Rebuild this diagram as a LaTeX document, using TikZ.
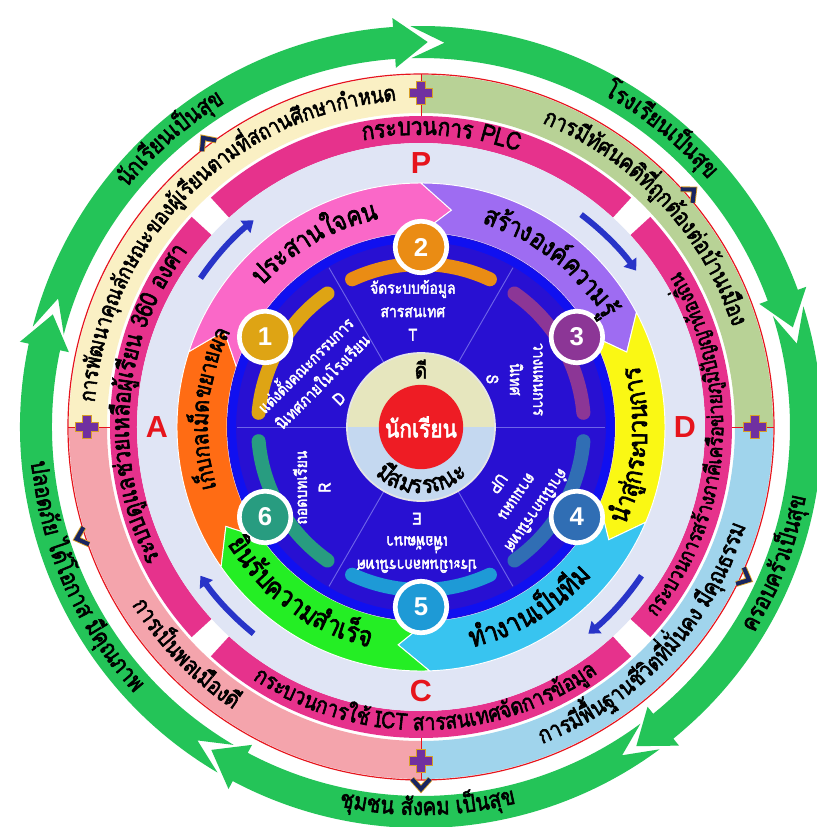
\documentclass[tikz,border=0pt]{standalone}
\usepackage{fontspec}
\usetikzlibrary{arrows.meta}
\newfontfamily\thaifont[Script=Thai, AutoFakeBold=2.5, FakeStretch=0.85]{Loma}
\newfontfamily\latinfont{Liberation Sans}

\definecolor{ringgreen}{RGB}{36,196,88}
\definecolor{bandcream}{RGB}{250,240,196}
\definecolor{bandsage}{RGB}{184,210,150}
\definecolor{bandblue}{RGB}{160,212,236}
\definecolor{bandpink}{RGB}{244,164,172}
\definecolor{plcmagenta}{RGB}{230,50,140}
\definecolor{gaplilac}{RGB}{224,229,245}
\definecolor{segorange}{RGB}{255,108,20}
\definecolor{segpink}{RGB}{250,104,200}
\definecolor{segpurple}{RGB}{158,108,242}
\definecolor{segyellow}{RGB}{250,248,20}
\definecolor{segcyan}{RGB}{56,196,240}
\definecolor{seggreen}{RGB}{36,238,36}
\definecolor{discblue}{RGB}{40,16,210}
\definecolor{discedge}{RGB}{16,16,240}
\definecolor{discline}{RGB}{110,100,232}
\definecolor{numgold}{RGB}{222,164,20}
\definecolor{numorange}{RGB}{234,140,20}
\definecolor{numpurple}{RGB}{140,54,150}
\definecolor{numsteel}{RGB}{48,110,180}
\definecolor{numblue}{RGB}{30,154,214}
\definecolor{numteal}{RGB}{40,156,128}
\definecolor{corebeige}{RGB}{230,230,190}
\definecolor{corelblue}{RGB}{196,216,240}
\definecolor{corered}{RGB}{238,28,36}
\definecolor{plusviolet}{RGB}{112,48,160}
\definecolor{plusgold}{RGB}{216,160,40}
\definecolor{chevnavy}{RGB}{24,36,96}
\definecolor{arrowblue}{RGB}{40,52,200}
\definecolor{letterred}{RGB}{230,20,28}

\newcommand{\tf}[1]{\thaifont\bfseries\fontsize{#1}{#1}\selectfont}
\newcommand{\sectfont}{\thaifont\bfseries\fontsize{14}{20}\selectfont}

\newcommand{\greenarrow}[2]{%
  \fill[ringgreen] ({#1+2.5}:401) arc[start angle={#1+2.5}, end angle={#2+5}, radius=401]
    -- ({#2+5}:410) -- (#2:385) -- ({#2+5}:360)
    -- ({#2+5}:369) arc[start angle={#2+5}, end angle={#1+2.5}, radius=369]
    -- ({#1-2.5}:385) -- cycle;}
\newcommand{\ringseg}[3]{%
  \fill[#3, draw=white, line width=0.8pt] ({#1+8}:244) arc[start angle={#1+8}, end angle={#2+8}, radius=244]
    -- (#2:219) -- ({#2+8}:194) arc[start angle={#2+8}, end angle={#1+8}, radius=194]
    -- (#1:219) -- cycle;}

\newdimen\chunkwd
\newcommand{\chunkwidth}[1]{%
  \pgfinterruptpicture\settowidth{\chunkwd}{#1}\global\chunkwd=\chunkwd\endpgfinterruptpicture}
\newcommand{\arctext}[6]{%
  \pgfmathsetmacro{\txtrad}{#2*0.853583}%
  \xdef\txtsum{0}%
  \foreach \ch in {#6} {%
    \chunkwidth{#5\ch}%
    \pgfmathsetmacro{\txtnew}{\txtsum+\the\chunkwd}%
    \xdef\txtsum{\txtnew}%
  }%
  \pgfmathsetmacro{\txtstart}{#3+(#4)*\txtsum/\txtrad*90/pi}%
  \xdef\txtcur{\txtstart}%
  \foreach \ch [count=\k] in {#6} {%
    \chunkwidth{#5\ch}%
    \pgfmathsetmacro{\txtmid}{\txtcur-(#4)*\the\chunkwd/\txtrad*90/pi}%
    \pgfmathsetmacro{\txtrot}{\txtmid-(#4)*90}%
    \node[anchor=base, inner sep=0pt, rotate=\txtrot, font=#5] (#1-\k) at (\txtmid:#2) {\ch};%
    \pgfmathsetmacro{\txtnew}{\txtcur-(#4)*\the\chunkwd/\txtrad*180/pi}%
    \xdef\txtcur{\txtnew}%
  }%
}

\begin{document}
\begin{tikzpicture}[x=0.03cm, y=0.03cm,
  sectext/.style={text=white, align=center, inner sep=0pt, font=\sectfont},
  numdisc/.style={circle, draw=white, line width=4pt, minimum size=44pt, inner sep=0pt, text=white, font=\latinfont\bfseries\fontsize{22}{22}\selectfont},
  pdca/.style={text=letterred, inner sep=0pt, font=\latinfont\bfseries\fontsize{26}{26}\selectfont},
  bluearrow/.style={draw=arrowblue, line width=5pt, -{Triangle[length=9pt, width=13pt]}}]
  \useasboundingbox (-421,-400) rectangle (396,427);
  \clip (-421,-400) rectangle (396,427);
  \fill[white] (-421,-400) rectangle (396,427);

  \greenarrow{163}{89}
  \greenarrow{89}{15}
  \greenarrow{15}{-56}
  \greenarrow{-56}{-123}
  \greenarrow{-123}{-197}

  \foreach \a/\c in {90/bandcream, 0/bandsage, -90/bandblue, 180/bandpink} {
    \fill[\c] (\a:352) arc[start angle=\a, end angle=\a+90, radius=352]
      -- ({\a+90}:314) arc[start angle=\a+90, end angle=\a, radius=314] -- cycle;
  }
  \draw[letterred, line width=1pt] (0,0) circle[radius=353];

  \foreach \a in {45,135,225,315} {
    \fill[plcmagenta] ({\a+2.5}:311) arc[start angle=\a+2.5, end angle=\a+87.5, radius=311]
      -- ({\a+87.5}:284) arc[start angle=\a+87.5, end angle=\a+2.5, radius=284] -- cycle;
  }
  \fill[gaplilac] (0,0) circle[radius=284];

  \ringseg{-153}{-206}{segorange}
  \ringseg{154}{82}{segpink}
  \ringseg{82}{20}{segpurple}
  \ringseg{20}{-31}{segyellow}
  \ringseg{-31}{-96}{segcyan}
  \ringseg{-96}{-153}{seggreen}

  \fill[discblue] (0,0) circle[radius=194];
  \draw[discedge, line width=7pt] (0,0) circle[radius=189];
  \foreach \a/\c in {150/numgold, 90/numorange, 30/numpurple, -30/numsteel, -90/numblue, -150/numteal} {
    \draw[\c, line width=12pt, line cap=round] ({\a+25}:163) arc[start angle=\a+25, end angle=\a-25, radius=163];
  }
  \foreach \a in {0,60,...,300} {
    \draw[discline, line width=0.8pt] (\a:74) -- (\a:184);
  }

  \node[sectext, rotate=45] (sect1) at (155:111) {แต่งตั้งคณะกรรมการ\\นิเทศภายในโรงเรียน\\D};
  \node[sectext] (sect2) at (94:117) {จัดระบบข้อมูล\\สารสนเทศ\\T};
  \node[sectext, rotate=-90] (sect3) at (27:105) {วางแผนการ\\นิเทศ\\S};
  \node[sectext, rotate=-125] (sect4) at (-36:120) {ดำเนินการนิเทศ\\ตามแผน\\UP};
  \node[sectext, rotate=180] (sect5) at (-92:116) {ประเมินผลการนิเทศ\\เพื่อพัฒนา\\E};
  \node[sectext, rotate=90] (sect6) at (209:125) {ถอดบทเรียน\\R};

  \fill[corebeige] (0:74) arc[start angle=0, end angle=180, radius=74] -- cycle;
  \fill[corelblue] (180:74) arc[start angle=180, end angle=360, radius=74] -- cycle;
  \draw[white!80!gray, line width=1.5pt] (0,0) circle[radius=74];
  \node[circle, fill=corered, minimum size=72pt, inner sep=0pt, text=white, font=\tf{21}] (core) at (0,0) {นักเรียน};
  \node[font=\tf{19}, inner sep=0pt] (good) at (90:58) {ดี};
  \arctext{able}{66}{-90}{-1}{\tf{21}}{มี,สม,รร,ถ,นะ}

  \foreach \a/\n/\c in {150/1/numgold, 90/2/numorange, 30/3/numpurple, -30/4/numsteel, -90/5/numblue, -150/6/numteal} {
    \node[numdisc, fill=\c] (num\n) at (\a:180) {\n};
  }

  \arctext{unite}{212}{120}{1}{\tf{23}}{ประ,สาน,ใจ,คน}
  \arctext{build}{212}{52}{1}{\tf{23}}{สร้าง,องค์,ความ,รู้}
  \arctext{lead}{226}{-5}{-1}{\tf{23}}{นำ,สู่,กระ,บวน,การ}
  \arctext{team}{226}{-59}{-1}{\tf{24}}{ทำ,งาน,เป็น,ทีม}
  \arctext{cheer}{226}{-126}{-1}{\tf{24}}{ยิน,รับ,ความ,สำ,เร็จ}
  \arctext{keep}{213}{175}{1}{\tf{20}}{เก็บ,กล,เม็ด,ขยาย,ผล}

  \arctext{plc}{292}{86}{1}{\tf{21}}{กระ,บวน,การ,\ ,PLC}
  \arctext{care}{292}{175}{1}{\tf{21}}{ระบบ,ดู,แล,ช่วย,เห,ลือ,ผู้,เรียน,\ ,360,\ ,อง,ศา}
  \arctext{ict}{303}{-89}{-1}{\tf{19.5}}{กระ,บวน,การ,ใช้,\ ,ICT,\ ,สาร,สน,เทศ,จัด,การ,ข้อ,มูล}
  \arctext{net}{302}{-4}{-1}{\tf{18}}{กระ,บวน,การ,สร้าง,ภา,คี,เครือ,ข่าย,ภูมิ,ปัญ,ญา,ท้อง,ถิ่น}

  \arctext{trait}{327}{135}{1}{\tf{19}}{การ,พัฒ,นา,คุณ,ลัก,ษณะ,ของ,ผู้,เรียน,ตาม,ที่,สถาน,ศึก,ษา,กำ,หนด}
  \arctext{view}{327}{43}{1}{\tf{20}}{การ,มี,ทัศ,นค,ติ,ที่,ถูก,ต้อง,ต่อ,บ้าน,เมือง}
  \arctext{base}{339}{-43}{-1}{\tf{20}}{การ,มี,พื้น,ฐาน,ชี,วิต,ที่,มั่น,คง,\ ,มี,คุณ,ธรรม}
  \arctext{civic}{339}{-136}{-1}{\tf{20}}{การ,เป็น,พล,เมือง,ดี}

  \arctext{pupil}{379}{131}{1}{\tf{20.5}}{นัก,เรียน,เป็น,สุข}
  \arctext{school}{379}{51}{1}{\tf{20.5}}{โรง,เรียน,เป็น,สุข}
  \arctext{home}{391}{-21}{-1}{\tf{20.5}}{ครอบ,ครัว,เป็น,สุข}
  \arctext{town}{388}{-89}{-1}{\tf{20.5}}{ชุม,ชน,\ ,สัง,คม,\ ,เป็น,สุข}
  \arctext{safe}{391}{-156}{-1}{\tf{20.5}}{ปลอด,ภัย,\ ,ได้,โอ,กาส,\ ,มี,คุณ,ภาพ}

  \node[pdca] (lp) at (90:264) {P};
  \node[pdca] (ld) at (0:264) {D};
  \node[pdca] (lc) at (-90:264) {C};
  \node[pdca] (la) at (180:264) {A};

  \foreach \a in {137,44,-43,-138} {
    \draw[bluearrow] ({\a+9}:266) arc[start angle=\a+9, end angle=\a-8, radius=266];
  }

  \foreach \a in {0,90,180,270} {
    \draw[letterred, line width=0.6pt] (\a:311) -- (\a:353);
    \begin{scope}[shift={(\a:334)}]
      \draw[plusgold, line width=8pt] (-12,0) -- (12,0) (0,-12) -- (0,12);
      \draw[plusviolet, line width=6pt] (-11,0) -- (11,0) (0,-11) -- (0,11);
    \end{scope}
  }

  \foreach \a in {127,41,-25,-90,198} {
    \begin{scope}[shift={(\a:358)}, rotate=\a]
      \draw[plusgold, line width=5pt, line join=miter] (-6,-9) -- (4,0) -- (-6,9);
      \draw[chevnavy, line width=3.5pt, line join=miter] (-6,-9) -- (4,0) -- (-6,9);
    \end{scope}
  }
\end{tikzpicture}
\end{document}
